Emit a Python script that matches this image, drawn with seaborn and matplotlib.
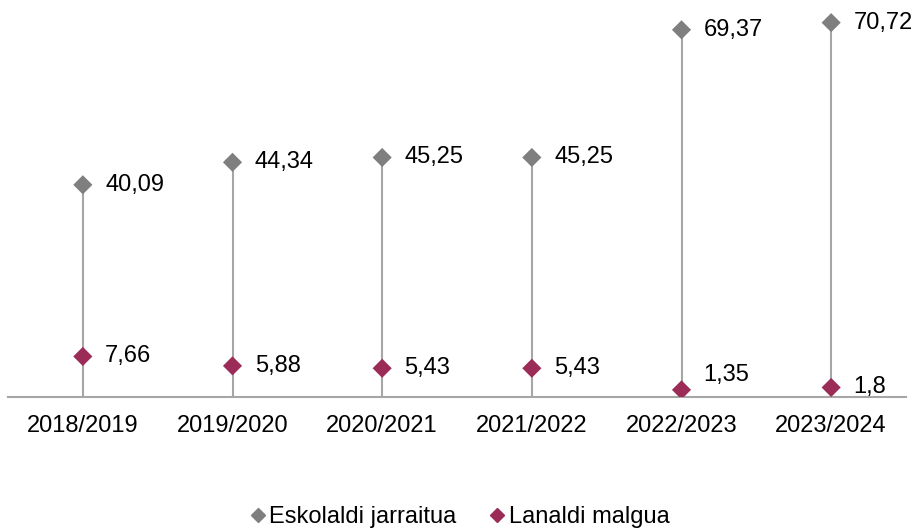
import matplotlib
matplotlib.use("Agg")
import matplotlib.pyplot as plt
import pandas as pd
import seaborn as sns

# Data
years = ["2018/2019", "2019/2020", "2020/2021", "2021/2022", "2022/2023", "2023/2024"]
eskolaldi = [40.09, 44.34, 45.25, 45.25, 69.37, 70.72]
lanaldi = [7.66, 5.88, 5.43, 5.43, 1.35, 1.8]
series_names = ["Eskolaldi jarraitua", "Lanaldi malgua"]

GREY = "#7f7f7f"
RED = "#9b2c58"
LINE = "#a6a6a6"

df = pd.DataFrame({
    "year": years * 2,
    "value": eskolaldi + lanaldi,
    "series": [series_names[0]] * len(years) + [series_names[1]] * len(years),
})
df["x"] = df["year"].map({y: i for i, y in enumerate(years)})

sns.set_style("white")
plt.rcParams["font.family"] = ["Liberation Sans", "DejaVu Sans"]
plt.rcParams["text.color"] = "black"
plt.rcParams["xtick.color"] = "black"

fig = plt.figure(figsize=(9.15, 5.29), dpi=100)
ax = fig.add_axes([8 / 915, 1 - 397 / 529, 898 / 915, 397 / 529])

# high-low lines from the axis up to the highest value
tops = [max(a, b) for a, b in zip(eskolaldi, lanaldi)]
ax.vlines(range(len(years)), 0, tops, color=LINE, linewidth=1.5, zorder=1)

sns.scatterplot(data=df, x="x", y="value", hue="series", hue_order=series_names,
                palette=[GREY, RED], marker="D", s=95, edgecolor="none",
                ax=ax, zorder=3, legend=False)

# data labels (comma decimal)
def fmt(v):
    return f"{v:g}".replace(".", ",")

for i, v in enumerate(eskolaldi):
    ax.annotate(fmt(v), (i, v), xytext=(16, 0), textcoords="offset points",
                va="center", ha="left", fontsize=17, color="black")
lan_offsets = [(0, 0), (0, 0), (0, 0), (0, 0), (0, 11), (0, 0)]
for i, v in enumerate(lanaldi):
    dx, dy = lan_offsets[i]
    ax.annotate(fmt(v), (i, v), xytext=(16 + dx, dy), textcoords="offset points",
                va="center", ha="left", fontsize=17, color="black")

ax.set_xlim(-0.5, len(years) - 0.5)
ax.set_ylim(0, 75)
ax.set_xticks(range(len(years)))
ax.set_xticklabels(years, fontsize=17, color="black")
ax.tick_params(axis="x", length=0, pad=13)
ax.set_yticks([])
ax.set_xlabel("")
ax.set_ylabel("")
for side in ["top", "right", "left"]:
    ax.spines[side].set_visible(False)
ax.spines["bottom"].set_color(LINE)
ax.spines["bottom"].set_linewidth(1.5)

handles = [
    plt.Line2D([], [], marker="D", color=GREY, linestyle="none", markersize=7),
    plt.Line2D([], [], marker="D", color=RED, linestyle="none", markersize=7),
]
fig.legend(handles, series_names, loc="center", bbox_to_anchor=(0.5, 1 - 517 / 529),
           ncol=2, frameon=False, fontsize=17, handletextpad=0.0,
           columnspacing=1.2, handlelength=1.0, labelcolor="black")

fig.savefig("out.png", dpi=100)
